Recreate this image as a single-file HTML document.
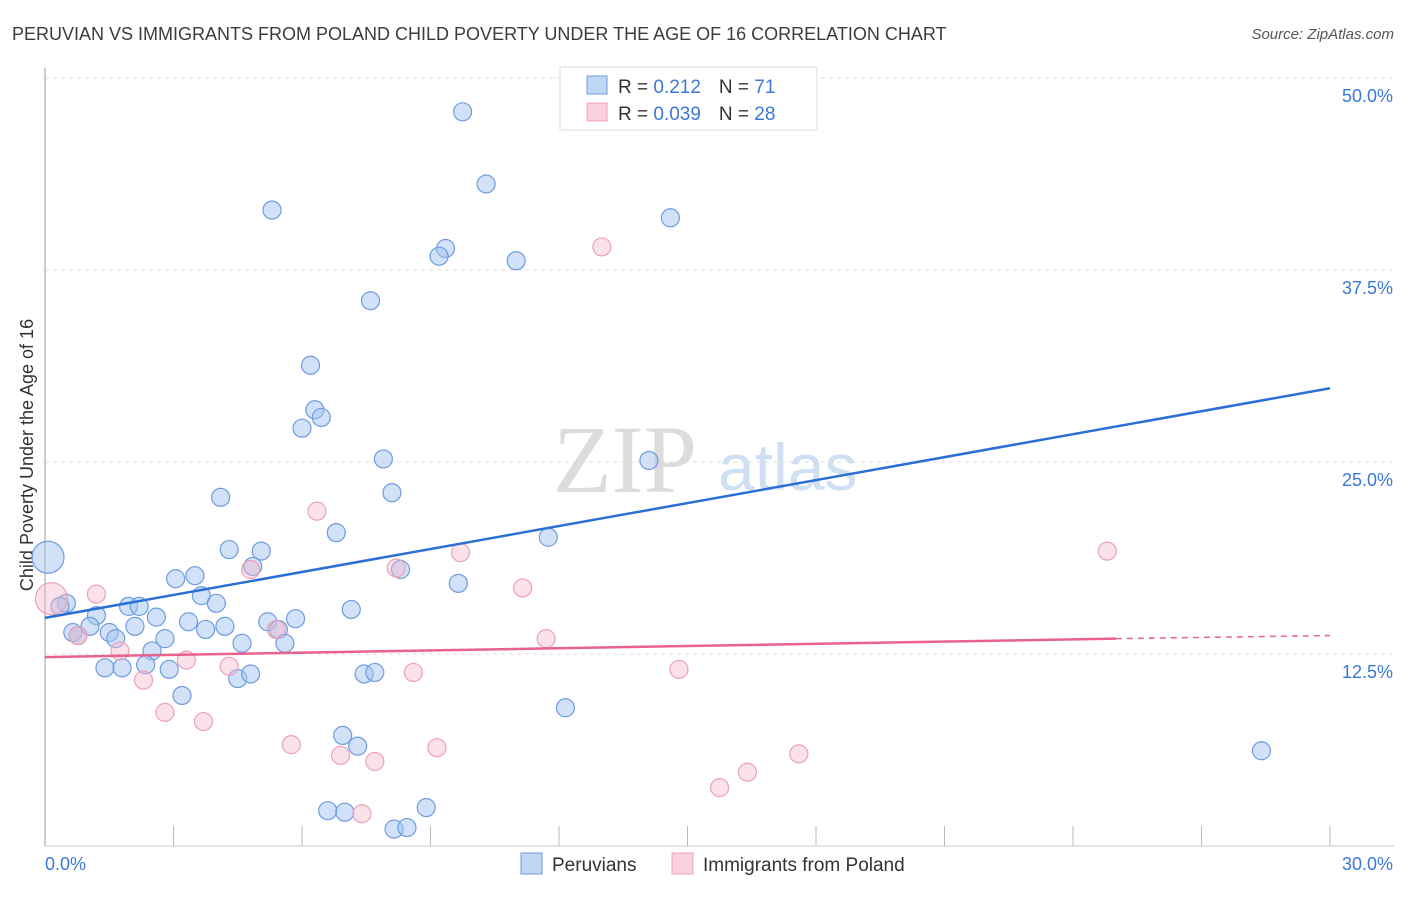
<!DOCTYPE html>
<html><head><meta charset="utf-8"><style>
body{margin:0;background:#fff;font-family:"Liberation Sans",sans-serif}
svg text{font-family:"Liberation Sans",sans-serif}
</style></head><body>
<svg id="chart" width="1406" height="892" viewBox="0 0 1406 892" xmlns="http://www.w3.org/2000/svg">
<text x="12" y="40" font-size="18" fill="#3c3c3c">PERUVIAN VS IMMIGRANTS FROM POLAND CHILD POVERTY UNDER THE AGE OF 16 CORRELATION CHART</text>
<text x="1394" y="39" font-size="15" fill="#555" text-anchor="end" font-style="italic">Source: ZipAtlas.com</text>
<g>
<text x="553" y="492" font-size="96" fill="#dcdcdc" font-family="Liberation Serif" style="font-family:'Liberation Serif',serif">ZIP</text>
<text x="718" y="490" font-size="66" fill="#cfe0f4">atlas</text>
</g>
<g id="grid"></g>
<line x1="45" y1="68" x2="45" y2="846" stroke="#bbb" stroke-width="1.5"/>
<line x1="45" y1="846" x2="1394" y2="846" stroke="#ccc" stroke-width="1"/>
<g id="xticks"></g>
<text transform="translate(33,455) rotate(-90)" font-size="18" fill="#333" text-anchor="middle">Child Poverty Under the Age of 16</text>
<text x="45" y="870" font-size="18" fill="#3b78d8">0.0%</text>
<text x="1393" y="870" font-size="18" fill="#3b78d8" text-anchor="end">30.0%</text>
<g id="pts"></g>
<g id="trends"></g>
<g>
<rect x="560" y="67" width="257" height="63" fill="#fff" stroke="#ddd"/>
<rect x="587" y="76" width="20" height="18" fill="rgba(164,196,240,0.7)" stroke="#6f9be0"/>
<rect x="587" y="103" width="20" height="18" fill="rgba(245,180,200,0.6)" stroke="#eea0b8"/>
<text x="618" y="93" font-size="19" fill="#333">R = <tspan fill="#3b78d8"> 0.212</tspan><tspan dx="18">N = </tspan><tspan fill="#3b78d8"> 71</tspan></text>
<text x="618" y="120" font-size="19" fill="#333">R = <tspan fill="#3b78d8">0.039</tspan><tspan dx="18">N = </tspan><tspan fill="#3b78d8">28</tspan></text>
</g>
<g>
<rect x="521" y="853" width="21" height="21" fill="rgba(164,196,240,0.7)" stroke="#6f9be0"/>
<text x="552" y="871" font-size="19" fill="#333">Peruvians</text>
<rect x="672" y="853" width="21" height="21" fill="rgba(245,180,200,0.6)" stroke="#eea0b8"/>
<text x="703" y="871" font-size="19" fill="#333">Immigrants from Poland</text>
</g>
</svg>
<script>
const yTicks=[12.5,25,37.5,50];
const yTickLabels=["12.5%","25.0%","37.5%","50.0%"];
const xTicks=[0,3,6,9,12,15,18,21,24,27,30];
const peruX=[0.07,0.5,0.35,1.2,0.65,0.77,1.05,1.5,1.65,1.95,2.2,2.1,2.6,2.8,2.5,2.35,1.4,1.8,2.9,3.05,3.5,3.65,4.0,3.35,3.75,4.2,4.6,3.2,4.5,4.8,4.1,4.3,5.05,4.85,5.2,5.45,5.6,5.85,5.3,6.2,6.3,6.45,6.0,6.8,7.15,7.6,7.9,8.1,8.3,7.45,7.7,6.95,7.3,6.6,7.0,8.15,8.45,8.9,9.75,10.3,9.35,9.2,11.0,9.65,11.75,12.15,14.1,14.6,28.4];
const peruY=[18.8,15.8,15.6,15.0,13.9,13.7,14.3,13.9,13.5,15.6,15.6,14.3,14.9,13.5,12.7,11.8,11.6,11.6,11.5,17.4,17.6,16.3,15.8,14.6,14.1,14.3,13.2,9.8,10.9,11.2,22.7,19.3,19.2,18.2,14.6,14.1,13.2,14.8,41.4,31.3,28.4,27.9,27.2,20.4,15.4,35.5,25.2,23.0,18.0,11.2,11.3,7.2,6.5,2.3,2.2,1.1,1.2,2.5,47.8,43.1,38.9,38.4,38.1,17.1,20.1,9.0,25.1,40.9,6.2];
const polX=[0.15,0.77,1.2,1.75,2.3,2.8,3.3,3.7,4.3,4.8,5.4,5.75,6.35,6.9,7.4,7.7,8.2,8.6,9.15,9.7,11.15,11.7,13.0,14.8,15.75,16.4,17.6,24.8];
const polY=[16.1,13.7,16.4,12.7,10.8,8.7,12.1,8.1,11.7,18.0,14.1,6.6,21.8,5.9,2.1,5.5,18.1,11.3,6.4,19.1,16.8,13.5,39.0,11.5,3.8,4.8,6.0,19.2];
const peruTrend=[14.85,29.8];
const polTrend=[12.3,13.5,13.7];
const polTrendSolidEnd=25;
const NS="http://www.w3.org/2000/svg";
const sx=v=>45+v/30*1285;
const sy=v=>846-v/12.5*192;
function mk(tag,attrs,parent){const e=document.createElementNS(NS,tag);for(const k in attrs)e.setAttribute(k,attrs[k]);parent.appendChild(e);return e;}
const grid=document.getElementById('grid');
yTicks.forEach((t,i)=>{
 const l=mk('line',{x1:45,x2:1394,y1:sy(t),y2:sy(t),stroke:'#ddd','stroke-dasharray':'4,4'},grid);
 
 
 const tx=mk('text',{x:1393,y:sy(t)+24,'font-size':18,fill:'#3b78d8','text-anchor':'end'},grid);
 tx.textContent=yTickLabels[i];
 
 
});
const xt=document.getElementById('xticks');
xTicks.forEach(t=>{
 const l=mk('line',{x1:sx(t),x2:sx(t),y1:826,y2:846,stroke:'#bbb'},xt);
 
 
});
const pts=document.getElementById('pts');
function draw(X,Y,fill,stroke,name){
 X.forEach((x,i)=>{
  const big=(x<0.2);
  const c=mk('circle',{cx:sx(x),cy:sy(Y[i]),r:big?16:9,fill:fill,stroke:stroke,'stroke-width':1.2},pts);
  
  
 });
}
draw(peruX,peruY,'rgba(164,196,240,0.5)','#6f9be0','peruvian-point');
draw(polX,polY,'rgba(245,180,200,0.4)','#eea0b8','poland-point');
const tr=document.getElementById('trends');
const b=mk('line',{x1:sx(0),y1:sy(peruTrend[0]),x2:sx(30),y2:sy(peruTrend[1]),stroke:'#2a6fd6','stroke-width':2.5},tr);


const p=mk('line',{x1:sx(0),y1:sy(polTrend[0]),x2:sx(polTrendSolidEnd),y2:sy(polTrend[1]),stroke:'#e8628e','stroke-width':2.5},tr);


const pd=mk('line',{x1:sx(polTrendSolidEnd),y1:sy(polTrend[1]),x2:sx(30),y2:sy(polTrend[2]),stroke:'#e8628e','stroke-width':1.5,'stroke-dasharray':'6,5'},tr);


</script>
</body></html>
